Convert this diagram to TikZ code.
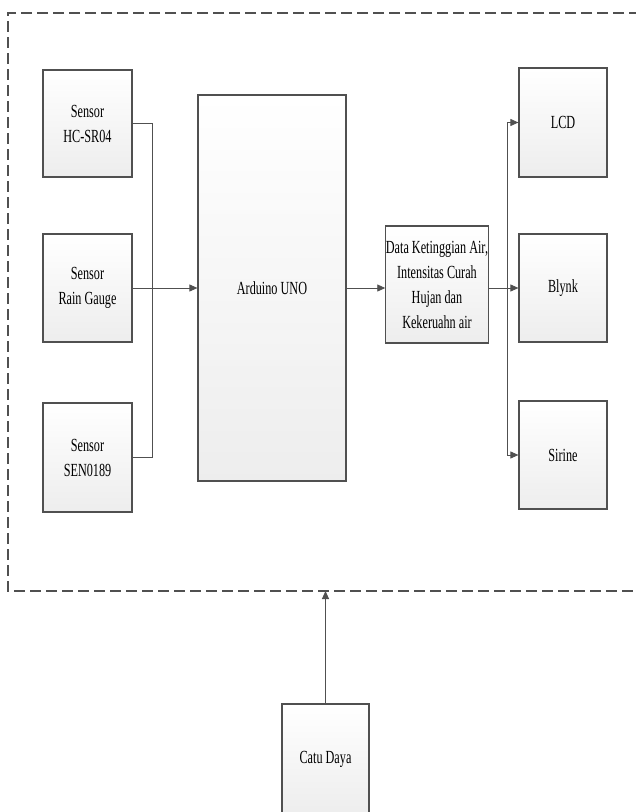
\documentclass[tikz,border=0pt]{standalone}
\usepackage{fontspec}
\setmainfont[FakeStretch=0.66]{Liberation Serif}
\usetikzlibrary{arrows.meta}
\definecolor{lc}{HTML}{505050}
\tikzset{
  blk/.style={draw=lc, line width=1.2pt, top color=white, bottom color=black!7,
    inner sep=0pt, align=center, font=\fontsize{18.5}{25}\selectfont, text=black},
  conn/.style={draw=lc, line width=0.9pt},
  arr/.style={conn, -{Triangle[length=8pt,width=7pt]}},
  frame/.style={draw=lc, line width=1.1pt, dash pattern=on 11pt off 5pt}
}
\begin{document}
\begin{tikzpicture}[x=1pt,y=-1pt]
\useasboundingbox (0,0) rectangle (636,812);
% frame
\coordinate (ftl) at (8,13);
\coordinate (ftr) at (640,13);
\coordinate (fbl) at (8,591);
\coordinate (fbr) at (640,591);
\draw[frame] (ftr) -- (ftl) -- (fbl) -- (fbr);
% sensors
\node[blk, minimum width=89pt, minimum height=107pt] (s1) at (87.5,123.5) {Sensor\\HC-SR04};
\node[blk, minimum width=89pt, minimum height=108pt] (s2) at (87.5,288) {Sensor\\Rain Gauge};
\node[blk, minimum width=89pt, minimum height=109pt] (s3) at (87.5,457.5) {Sensor\\SEN0189};
% arduino
\node[blk, minimum width=148pt, minimum height=386pt] (ard) at (272,288) {Arduino UNO};
% data
\node[blk, minimum width=102pt, minimum height=117pt] (data) at (437,284.5) {Data Ketinggian Air,\\Intensitas Curah\\Hujan dan\\Kekeruahn air};
% outputs
\node[blk, minimum width=88pt, minimum height=109pt] (lcd) at (563,122.5) {LCD};
\node[blk, minimum width=88pt, minimum height=108pt] (bly) at (563,288) {Blynk};
\node[blk, minimum width=88pt, minimum height=108pt] (sir) at (563,455) {Sirine};
% power
\node[blk, minimum width=87pt, minimum height=110pt] (pwr) at (325.5,759) {Catu Daya};
% junctions
\coordinate (jl) at (152,288);
\coordinate (jr) at (507,288);
% sensor bus
\draw[conn] (s1.east) -| (jl);
\draw[conn] (s3.east) -| (jl);
\draw[conn] (s2.east) -- (jl);
\draw[arr] (jl) -- (ard.west);
\draw[arr] (ard.east) -- (data.west |- ard.east);
% output bus
\draw[conn] (lcd.west -| jr) -- (sir.west -| jr);
\draw[arr] (lcd.west -| jr) -- (lcd.west);
\draw[arr] (sir.west -| jr) -- (sir.west);
\draw[arr] (data.east |- bly.west) -- (bly.west);
% power arrow
\coordinate (pin) at (325.5,591);
\draw[arr] (pwr.north) -- (pin);
\end{tikzpicture}
\end{document}
